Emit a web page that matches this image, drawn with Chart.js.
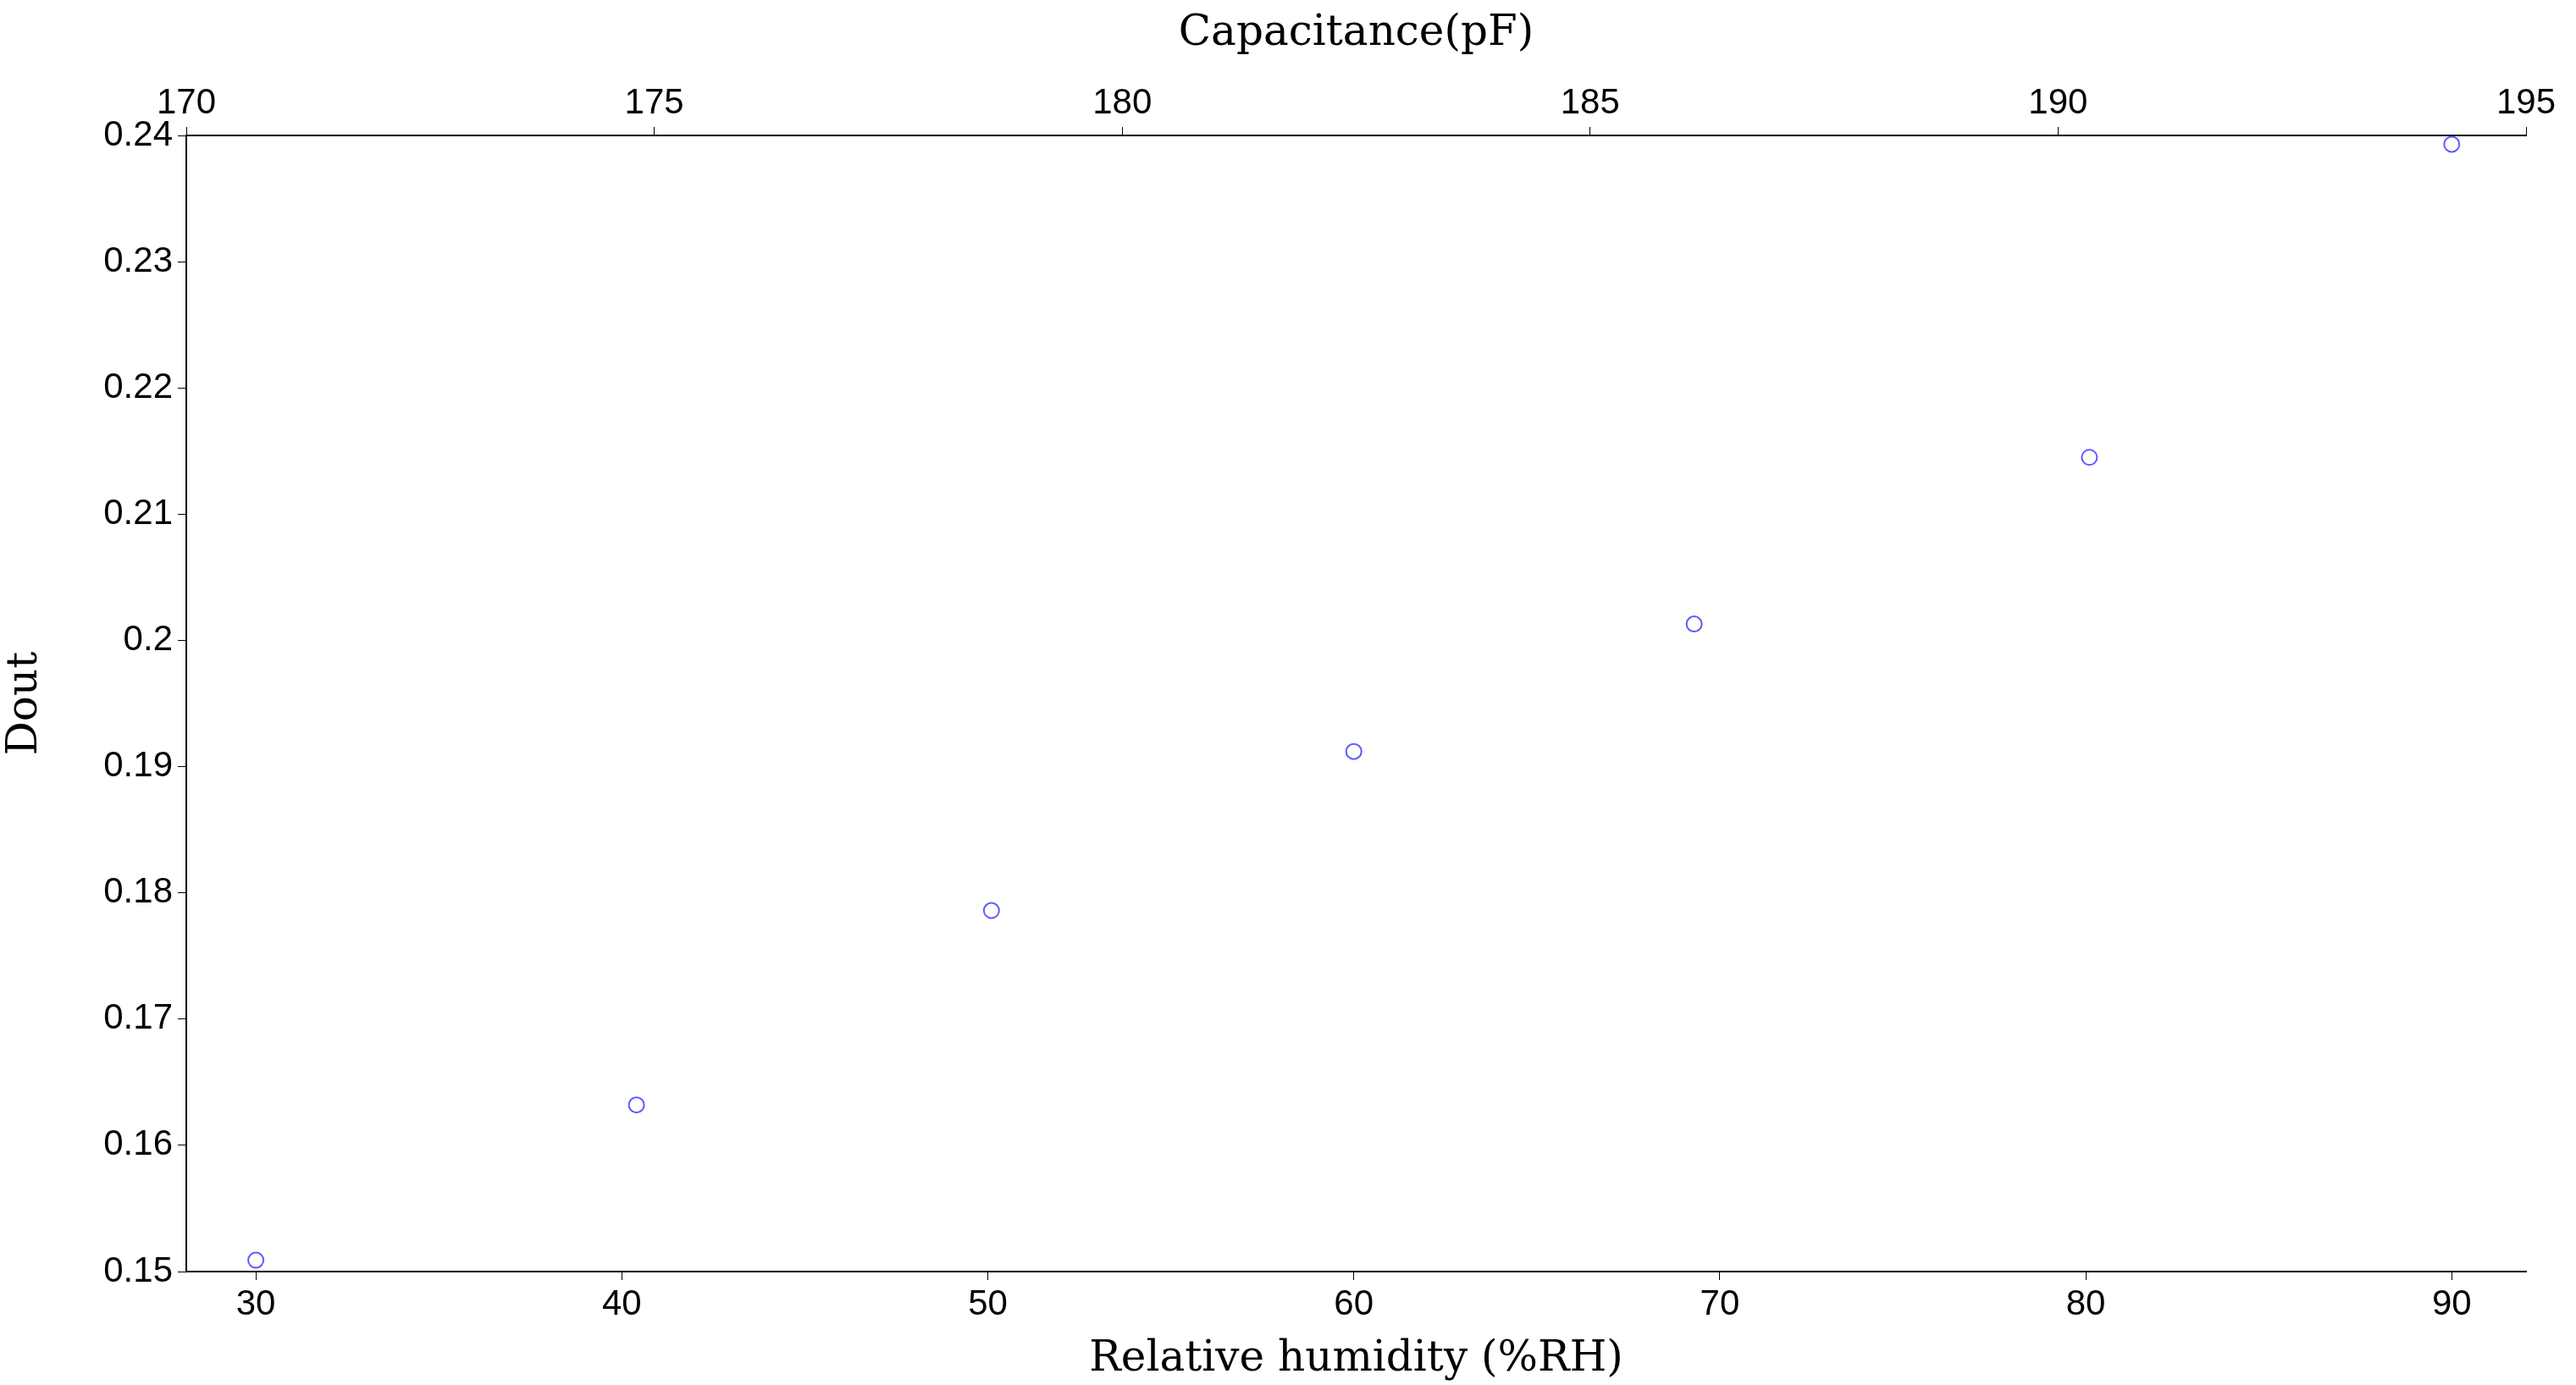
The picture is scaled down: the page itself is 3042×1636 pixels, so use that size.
<!DOCTYPE html>
<html><head><meta charset="utf-8">
<script src="https://cdn.jsdelivr.net/npm/chart.js@4"></script>
<style>html,body{margin:0;padding:0;background:#fff}canvas{display:block}</style>
</head><body>
<div style="width:3042px;height:1636px"><canvas id="c" width="3042" height="1636"></canvas></div>
<script>
const humidity = [30, 40.4, 50.1, 60.0, 69.3, 80.1, 90];
const dout = [0.1509, 0.1632, 0.1786, 0.1912, 0.2013, 0.2145, 0.2393];
const xTicks = [30, 40, 50, 60, 70, 80, 90];
const capTicks = [170, 175, 180, 185, 190, 195];
const yTicks = [0.15, 0.16, 0.17, 0.18, 0.19, 0.2, 0.21, 0.22, 0.23, 0.24];

const tickFont = {family: 'Liberation Sans, Arial', size: 42};
const titleFont = {family: 'DejaVu Serif, Liberation Serif, serif', size: 50};
function fix(prop, v){ return function(s){ s[prop] = v; }; }

new Chart(document.getElementById('c'), {
  type: 'scatter',
  data: { datasets: [{
    data: humidity.map((x,i)=>({x:x, y:dout[i]})),
    pointStyle: 'circle', pointRadius: 9, pointBorderWidth: 2,
    borderColor: '#5a5aff', backgroundColor: 'rgba(0,0,0,0)'
  }]},
  options: {
    responsive: false, animation: false, devicePixelRatio: 1,
    layout: {padding: {left: 0, right: 59, top: 0, bottom: 0}},
    plugins: {legend: {display: false}, tooltip: {enabled: false}},
    scales: {
      x: {
        type: 'linear', position: 'bottom', min: 28.1, max: 92.03,
        afterBuildTicks: s => { s.ticks = xTicks.map(v=>({value:v})); },
        afterFit: fix('height', 134),
        ticks: {font: tickFont, color: '#000', padding: 4, maxRotation: 0},
        grid: {drawOnChartArea: false, tickLength: 10, color: '#000'},
        border: {color: '#000', width: 2},
        title: {display: true, text: 'Relative humidity (%RH)', font: titleFont, color: '#000', padding: {top: 0, bottom: 0}}
      },
      x2: {
        type: 'linear', position: 'top', min: 170, max: 195,
        afterBuildTicks: s => { s.ticks = capTicks.map(v=>({value:v})); },
        afterFit: fix('height', 160),
        ticks: {font: tickFont, color: '#000', padding: 2, maxRotation: 0},
        grid: {drawOnChartArea: false, tickLength: 10, color: '#000'},
        border: {color: '#000', width: 2},
        title: {display: true, text: 'Capacitance(pF)', font: titleFont, color: '#000', padding: {top: 10, bottom: 10}}
      },
      y: {
        type: 'linear', min: 0.15, max: 0.24,
        afterBuildTicks: s => { s.ticks = yTicks.map(v=>({value:v})); },
        afterFit: fix('width', 220),
        ticks: {font: tickFont, color: '#000', padding: 6, callback: v => String(+v.toFixed(2)).replace(/^0\./,'0.')},
        grid: {drawOnChartArea: false, tickLength: 10, color: '#000'},
        border: {color: '#000', width: 2},
        title: {display: true, text: 'Dout', font: titleFont, color: '#000', padding: {top: 0, bottom: 10}}
      }
    }
  }
});
</script>
</body></html>
